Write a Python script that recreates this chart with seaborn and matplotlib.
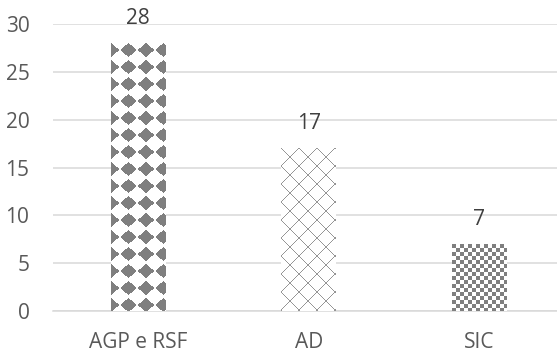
import numpy as np
import matplotlib
matplotlib.use("Agg")
import matplotlib.pyplot as plt
import seaborn as sns

categories = ["AGP e RSF", "AD", "SIC"]
values = [28, 17, 7]
yticks = [0, 5, 10, 15, 20, 25, 30]
patterns = ["diamond", "lattice", "checker"]

sns.set_theme(style="white")
plt.rcParams["font.family"] = ["Open Sans", "DejaVu Sans"]

GRID = "#d9d9d9"
GRAY = np.array([0x7f, 0x7f, 0x7f]) / 255.0
LINE = np.array([0x95, 0x95, 0x95]) / 255.0


def texture(kind, w, h):
    """RGB tile of w x h pixels (row 0 = top of the bar)."""
    yy, xx = np.mgrid[0:h, 0:w].astype(float) + 0.5
    img = np.ones((h, w, 3))
    if kind == "diamond":
        px, py = 17.5, 17.0
        dx = np.abs(((xx + px / 2) % px) - px / 2)
        dy = np.abs(((yy - 7 + py / 2) % py) - py / 2)
        mask = dx / 8.4 + dy / 7.2 <= 1.0
        img[mask] = GRAY
    elif kind == "lattice":
        p = 18.0
        a = (xx + yy) % p
        b = (xx - yy) % p
        mask = (a < 1.0) | (b < 1.0)
        img[mask] = LINE
    elif kind == "checker":
        s = 4.0
        mask = ((np.floor(xx / s) + np.floor(yy / s)) % 2) == 0
        img[mask] = GRAY
    return img


fig = plt.figure(figsize=(5.57, 3.52), dpi=100)
ax = fig.add_axes([53 / 557, 41 / 352, 511.5 / 557, 287 / 352])

sns.barplot(x=categories, y=values, color="white", width=0.32,
            saturation=1, edgecolor="none", ax=ax)

ax.set_xlim(-0.5, 2.5)
ax.set_ylim(0, 30)
ax.set_yticks(yticks)

# fill each bar with its pixel texture, clipped to the bar rectangle
for bar, kind in zip(ax.patches, patterns):
    x0, y0 = bar.get_x(), bar.get_y()
    x1, y1 = x0 + bar.get_width(), y0 + bar.get_height()
    (dx0, dy0), (dx1, dy1) = ax.transData.transform([(x0, y0), (x1, y1)])
    w = int(round(dx1 - dx0))
    h = int(round(dy1 - dy0))
    im = ax.imshow(texture(kind, w, h), extent=(x0, x1, y0, y1),
                   interpolation="nearest", aspect="auto", zorder=3)
    im.set_clip_path(bar)

ax.set_xlim(-0.5, 2.5)
ax.set_ylim(0, 30)

for i, v in enumerate(values):
    ax.annotate(f"{v}", (i, v), xytext=(0, 10), textcoords="offset points",
                ha="center", va="bottom", fontsize=15, color="#404040")

ax.yaxis.grid(True, color=GRID, linewidth=1.1)
ax.set_axisbelow(True)
for side in ["top", "right", "left"]:
    ax.spines[side].set_visible(False)
ax.spines["bottom"].set_color(GRID)
ax.spines["bottom"].set_linewidth(1.1)

ax.tick_params(axis="y", length=0, pad=17, labelsize=15, labelcolor="#595959")
ax.tick_params(axis="x", length=0, pad=15, labelsize=15, labelcolor="#595959")
ax.set_xlabel("")
ax.set_ylabel("")

fig.savefig("out.png", dpi=100)
